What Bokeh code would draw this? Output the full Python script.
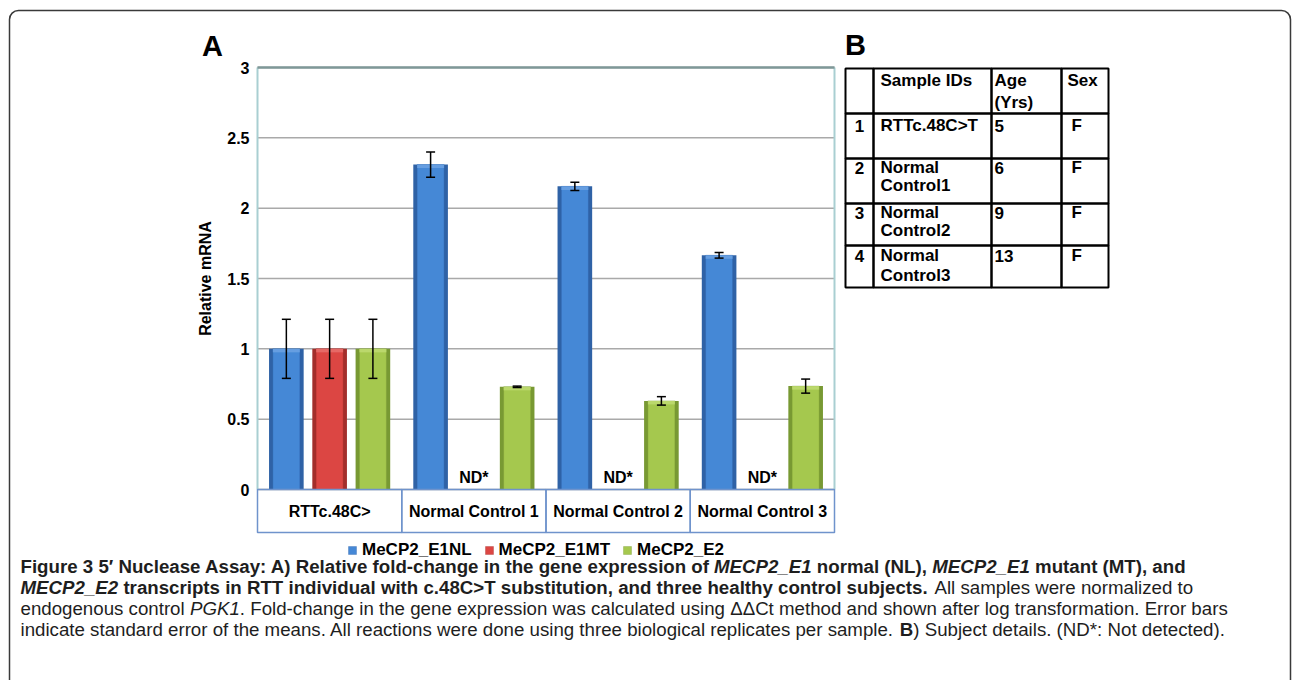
import math
from bokeh.plotting import figure
from bokeh.models import (ColumnDataSource, Range1d, Whisker, TeeHead, Label, BoxAnnotation,
                          Legend, LegendItem)
from bokeh.core.properties import value
from bokeh.embed import file_html
from bokeh.resources import INLINE

# ---------------- data ----------------
groups = ["RTTc.48C>", "Normal Control 1", "Normal Control 2", "Normal Control 3"]
series_names = ["MeCP2_E1NL", "MeCP2_E1MT", "MeCP2_E2"]
e1nl = [1.00, 2.31, 2.155, 1.665]
e1nl_err = [0.21, 0.09, 0.03, 0.02]
e1mt = [1.00, None, None, None]          # None = not detected (ND*)
e1mt_err = [0.21, None, None, None]
e2 = [1.00, 0.73, 0.63, 0.735]
e2_err = [0.21, 0.005, 0.03, 0.05]
nd_text = "ND*"
y_ticks = [0, 0.5, 1, 1.5, 2, 2.5, 3]
y_label = "Relative mRNA"

table_header = ["", "Sample IDs", "Age\n(Yrs)", "Sex"]
table_nums = ["1", "2", "3", "4"]
table_ids = ["RTTc.48C>T", "Normal\nControl1", "Normal\nControl2", "Normal\nControl3"]
table_age = ["5", "6", "9", "13"]
table_sex = ["F", "F", "F", "F"]

caption_lines = [
    [("Figure 3 5\u2032 Nuclease Assay: A) Relative fold-change in the gene expression of ", "bold"),
     ("MECP2_E1", "bold italic"), (" normal (NL), ", "bold"), ("MECP2_E1", "bold italic"),
     (" mutant (MT), and", "bold")],
    [("MECP2_E2", "bold italic"),
     (" transcripts in RTT individual with c.48C>T substitution, and three healthy control subjects.", "bold"),
     (" All samples were normalized to", "normal")],
    [("endogenous control ", "normal"), ("PGK1", "italic"),
     (". Fold-change in the gene expression was calculated using \u0394\u0394Ct method and shown after log transformation. Error bars", "normal")],
    [("indicate standard error of the means. All reactions were done using three biological replicates per sample. ", "normal"),
     ("B", "bold"), (") Subject details. (ND*: Not detected).", "normal")],
]

# ---------------- styles / geometry ----------------
FONT = "Liberation Sans"
blue_dark, blue_light, blue_top = "#2f62a6", "#4588d6", "#6ea4e3"
red_dark, red_light, red_top = "#a32e2b", "#dc4643", "#e8726f"
green_dark, green_light, green_top = "#789933", "#a5c84e", "#c0dc74"
cat_line = "#6f93cc"
grid_col = "#a9a9a9"

W, H = 1292, 680
PX_L, PX_R, PX_T, PX_B = 257, 834, 67, 489      # plot area in page pixels
CAT_BOX = 43                                     # depth of category box, px

ngroups = len(groups)
ymax = y_ticks[-1]
ux = (PX_R - PX_L) / ngroups
uy = (PX_B - PX_T) / ymax

p = figure(width=W, height=H, x_range=Range1d(0, W), y_range=Range1d(H, 0),
           output_backend="svg", toolbar_location=None,
           x_axis_location=None, y_axis_location=None,
           min_border=0, min_border_left=0, min_border_right=0, min_border_top=0,
           min_border_bottom=0)
p.extra_x_ranges = {"cat": Range1d(-PX_L / ux, (W - PX_L) / ux)}
p.extra_y_ranges = {"val": Range1d(-(H - PX_B) / uy, PX_B / uy)}
p.background_fill_color = "white"
p.border_fill_color = "white"
p.outline_line_color = None
p.grid.grid_line_color = None

XR = dict(x_range_name="cat", y_range_name="val")

# horizontal grid lines
p.segment(x0=[0] * len(y_ticks), x1=[ngroups] * len(y_ticks), y0=y_ticks, y1=y_ticks,
          line_color=grid_col, line_width=1.5, **XR)
# frame edges
p.segment(x0=[0, ngroups], x1=[0, ngroups], y0=[0, 0], y1=[ymax, ymax],
          line_color="#a9cfd2", line_width=2, **XR)
p.segment(x0=[0], x1=[ngroups], y0=[ymax], y1=[ymax], line_color="#7f9898", line_width=2.5, **XR)

# ---------------- bars ----------------
offsets = [-0.3, 0.0, 0.3]
bw = 0.24
series = [
    (e1nl, e1nl_err, blue_dark, blue_light, blue_top),
    (e1mt, e1mt_err, red_dark, red_light, red_top),
    (e2, e2_err, green_dark, green_light, green_top),
]
legend_renderers = []
for (vals, errs, dark, light, top), off in zip(series, offsets):
    idx = [i for i, v in enumerate(vals) if v is not None]
    v = [vals[i] for i in idx]
    e = [errs[i] for i in idx]
    src = ColumnDataSource(dict(x=[i + 0.5 + off for i in idx], top=v,
                                cap=[t - 0.025 for t in v],
                                upper=[t + d for t, d in zip(v, e)],
                                lower=[t - d for t, d in zip(v, e)]))
    p.vbar(x="x", top="top", width=bw, source=src, fill_color=dark, line_color=None, **XR)
    r = p.vbar(x="x", top="top", width=bw * 0.78, source=src, fill_color=light,
               line_color=dark, line_alpha=0.35, line_width=1, **XR)
    p.vbar(x="x", top="top", bottom="cap", width=bw * 0.78, source=src,
           fill_color=top, line_color=None, fill_alpha=0.8, **XR)
    legend_renderers.append(r)
    p.add_layout(Whisker(source=src, base="x", upper="upper", lower="lower",
                         line_color="black", line_width=1.5, level="overlay",
                         upper_head=TeeHead(size=9, line_width=1.5, line_color="black"),
                         lower_head=TeeHead(size=9, line_width=1.5, line_color="black"),
                         **XR))

nd_idx = [i for i, v in enumerate(e1mt) if v is None]
nd_src = ColumnDataSource(dict(x=[i + 0.5 for i in nd_idx], y=[0] * len(nd_idx),
                               t=[nd_text] * len(nd_idx)))
p.text(x="x", y="y", text="t", source=nd_src, y_offset=-12,
       text_font=value(FONT), text_font_style="bold", text_font_size="16px",
       text_align="center", text_baseline="middle", text_color="black", **XR)

# y tick labels and axis label
p.text(x=[0] * len(y_ticks), y=y_ticks, text=[f"{t:g}" for t in y_ticks], x_offset=-8,
       text_font=value(FONT), text_font_style="bold", text_font_size="16px",
       text_align="right", text_baseline="middle", text_color="black", **XR)
p.text(x=[0], y=[(y_ticks[0] + y_ticks[-1]) / 2], text=[y_label], x_offset=-52, angle=math.pi / 2,
       text_font=value(FONT), text_font_style="bold", text_font_size="16px",
       text_align="center", text_baseline="middle", text_color="black", **XR)

# category labels and box
p.text(x=[i + 0.5 for i in range(ngroups)], y=[0] * ngroups, text=groups, y_offset=22,
       text_font=value(FONT), text_font_style="bold", text_font_size="16px",
       text_align="center", text_baseline="middle", text_color="black", **XR)
for i in range(ngroups):
    p.add_layout(BoxAnnotation(left=i, right=i + 1, top=PX_B, bottom=PX_B + CAT_BOX,
                               x_range_name="cat", fill_alpha=0, line_color=cat_line,
                               line_alpha=1, line_width=1.5))

# legend
legend = Legend(items=[LegendItem(label=n, renderers=[r]) for n, r in zip(series_names, legend_renderers)],
                location=(347, H - 560), orientation="horizontal", glyph_width=10, glyph_height=10,
                label_standoff=5, spacing=12, padding=0, margin=0, border_line_color=None,
                background_fill_alpha=0, label_text_font=FONT, label_text_font_style="bold",
                label_text_font_size="17px", label_height=20, label_text_color="black")
p.add_layout(legend)


def lab(text, x, y, size, style="bold", align="left", color="black", font=FONT):
    p.add_layout(Label(x=x, y=y, text=text, text_font=font, text_font_size=size,
                       text_font_style=style, text_align=align, text_baseline="middle",
                       text_color=color))


# outer rounded frame
p.add_layout(BoxAnnotation(left=9, right=1290, top=10, bottom=900, fill_alpha=0,
                           line_color="#3a3a3a", line_alpha=1, line_width=1.5, border_radius=9))

lab("A", 212, 45, "29px", align="center")
lab("B", 855, 44, "29px", align="center")

# ---------------- table B ----------------
col_x = [845, 873, 991, 1061, 1108]
row_y = [68, 113, 158, 203, 245, 287]
for i in range(len(row_y) - 1):
    for j in range(len(col_x) - 1):
        p.add_layout(BoxAnnotation(left=col_x[j], right=col_x[j + 1], top=row_y[i],
                                   bottom=row_y[i + 1], fill_alpha=0, line_color="black",
                                   line_alpha=1, line_width=2))
TS = "17px"
text_x = [859, 880, 994, 1067]
head_y = [80, 102]
for j, h in enumerate(table_header):
    for k, part in enumerate(h.split("\n")):
        if part:
            lab(part, text_x[j], head_y[k], TS)
row_line_y = [(125, 143), (167, 185), (212, 230), (255, 275)]
for i in range(len(table_nums)):
    y1, y2 = row_line_y[i]
    lab(table_nums[i], text_x[0], y1, TS, align="center")
    for k, part in enumerate(table_ids[i].split("\n")):
        lab(part, text_x[1], (y1, y2)[k], TS)
    lab(table_age[i], text_x[2], y1, TS)
    lab(table_sex[i], text_x[3] + 4, y1, TS)

# ---------------- caption ----------------
AR, AB = {}, {}
for chars, w in [(" !,./:;I[]ft", 278), ("ijl", 222), ("'", 191), ("()-r", 333), ("*", 389),
                 ("+<=>", 584), ("0123456789#$?_abdeghnopqu", 556), ("Jcksvxyz", 500),
                 ("%", 889), ("mM", 833), ("&ABEKPSVXY", 667), ("CDHNRUw", 722), ("GOQ", 778),
                 ("W", 944), ("FTZ", 611), ("L", 556), ("\u0394", 668), ("\u2032", 191)]:
    for c in chars:
        AR[c] = w
for chars, w in [(" ,.Iil", 278), ("!():;-ft", 333), ("*r", 389), ("+<=>", 584),
                 ("0123456789#$?_acehksvxyJ", 556), ("z", 500), ("bdgnopqu", 611), ("%m", 889),
                 ("M", 833), ("EPSVXY", 667), ("ABCDHKNRU", 722), ("wGOQ", 778), ("W", 944),
                 ("FTZL", 611), ("\u0394", 668), ("\u2032", 238)]:
    for c in chars:
        AB[c] = w


def tw(s, style, size):
    tbl = AB if "bold" in style else AR
    return sum(tbl.get(c, 556) for c in s) * size / 1000.0


# size chosen so that lines 3 and 4 together span their widths in the reference
em34 = sum(tw(t, st, 1.0) for t, st in caption_lines[2] + caption_lines[3])
cap_size = round((1170.0 + 1245.0) / em34, 1)
cap_y = [566, 587, 608, 629]
for line, yy in zip(caption_lines, cap_y):
    x = 20.0
    for t, st in line:
        lead = len(t) - len(t.lstrip(" "))
        body = t.strip(" ")
        lab(body, x + tw(" " * lead, st, cap_size), yy, f"{cap_size}px", style=st, color="#1e1e1e")
        x += tw(t, st, cap_size)

open("out.html", "w").write(file_html(p, INLINE))
